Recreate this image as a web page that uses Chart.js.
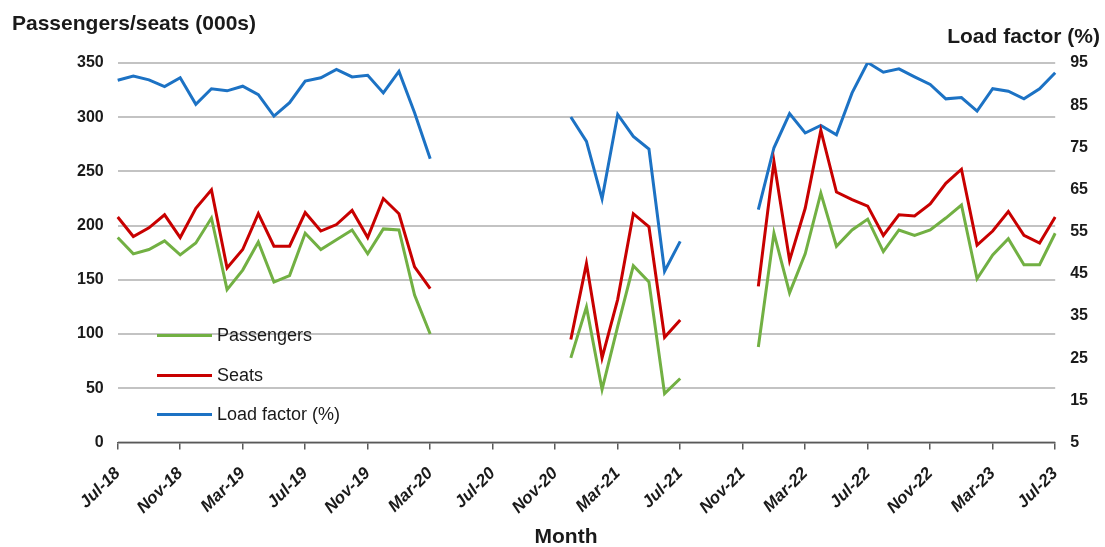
<!DOCTYPE html>
<html lang="en">
<head>
    <meta charset="UTF-8">
    <title>Passengers, seats and load factor</title>
    <script src="https://cdn.jsdelivr.net/npm/chart.js"></script>
    <style>
        body {
            margin: 0;
            background: #fff;
            font-family: "Liberation Sans", Arial, sans-serif;
            color: #1a1a1a;
        }
        #wrap {
            position: relative;
            width: 1105px;
            height: 547px;
        }
        .title {
            position: absolute;
            font-size: 21px;
            font-weight: bold;
            line-height: 21px;
            white-space: nowrap;
        }
        .legend-row {
            position: absolute;
            left: 157px;
            height: 18px;
            display: flex;
            align-items: center;
            font-size: 18px;
            line-height: 18px;
            white-space: nowrap;
        }
        .legend-row span.swatch {
            display: inline-block;
            width: 55px;
            height: 3px;
            margin-right: 5px;
        }
    </style>
</head>
<body>
<div id="wrap">
    <canvas id="chart" width="1105" height="547"></canvas>
    <div class="title" style="left:12px; top:12px;">Passengers/seats (000s)</div>
    <div class="title" style="right:5px; top:25px;">Load factor (%)</div>
    <div class="title" style="left:0; width:1132px; text-align:center; top:525px;">Month</div>
    <div id="legend"></div>
</div>

<script>
    const months = [
        'Jul-18', 'Aug-18', 'Sep-18', 'Oct-18', 'Nov-18', 'Dec-18',
        'Jan-19', 'Feb-19', 'Mar-19', 'Apr-19', 'May-19', 'Jun-19', 'Jul-19', 'Aug-19', 'Sep-19', 'Oct-19', 'Nov-19', 'Dec-19',
        'Jan-20', 'Feb-20', 'Mar-20', 'Apr-20', 'May-20', 'Jun-20', 'Jul-20', 'Aug-20', 'Sep-20', 'Oct-20', 'Nov-20', 'Dec-20',
        'Jan-21', 'Feb-21', 'Mar-21', 'Apr-21', 'May-21', 'Jun-21', 'Jul-21', 'Aug-21', 'Sep-21', 'Oct-21', 'Nov-21', 'Dec-21',
        'Jan-22', 'Feb-22', 'Mar-22', 'Apr-22', 'May-22', 'Jun-22', 'Jul-22', 'Aug-22', 'Sep-22', 'Oct-22', 'Nov-22', 'Dec-22',
        'Jan-23', 'Feb-23', 'Mar-23', 'Apr-23', 'May-23', 'Jun-23', 'Jul-23'
    ];

    // thousands; null = no flights reported
    const passengers = [
        189, 174, 178, 186, 173, 184, 207, 141, 159, 185, 148, 154, 193, 178, 187, 196, 174, 197, 196, 136, 100,
        null, null, null, null, null, null, null, null,
        78, 125, 49, 107, 163, 148, 45, 59,
        null, null, null, null,
        88, 193, 138, 174, 230, 181, 196, 206, 176, 196, 191, 196, 207, 219, 151, 173, 188, 164, 164, 193
    ];

    const seats = [
        208, 190, 198, 210, 189, 216, 233, 161, 178, 211, 181, 181, 212, 195, 201, 214, 189, 225, 211, 162, 142,
        null, null, null, null, null, null, null, null,
        95, 165, 78, 132, 211, 199, 97, 113,
        null, null, null, null,
        144, 259, 168, 216, 288, 231, 224, 218, 191, 210, 209, 220, 239, 252, 182, 195, 213, 191, 184, 208
    ];

    // percent
    const loadFactor = [
        90.9, 91.9, 91.0, 89.4, 91.5, 85.2, 88.9, 88.4, 89.5, 87.5, 82.4, 85.6, 90.7, 91.5, 93.5, 91.7, 92.1, 87.9, 93.0, 83.2, 72.3,
        null, null, null, null, null, null, null, null,
        82.2, 76.4, 62.8, 82.8, 77.6, 74.6, 45.6, 52.7,
        null, null, null, null,
        60.2, 74.9, 83.0, 78.4, 80.2, 78.0, 87.9, 95.1, 92.8, 93.6, 91.7, 89.9, 86.5, 86.8, 83.6, 88.9, 88.3, 86.5, 88.9, 92.7
    ];

    const seriesNames = ['Passengers', 'Seats', 'Load factor (%)'];
    const seriesColors = ['#72b043', '#c80000', '#1c72c4'];

    const fontFamily = '"Liberation Sans", Arial, sans-serif';
    const textColor = '#1a1a1a';

    const ctx = document.getElementById('chart').getContext('2d');
    const chart = new Chart(ctx, {
        type: 'line',
        data: {
            labels: months,
            datasets: [
                { label: seriesNames[0], data: passengers, borderColor: seriesColors[0], yAxisID: 'y' },
                { label: seriesNames[1], data: seats, borderColor: seriesColors[1], yAxisID: 'y' },
                { label: seriesNames[2], data: loadFactor, borderColor: seriesColors[2], yAxisID: 'y1' }
            ]
        },
        options: {
            responsive: false,
            animation: false,
            spanGaps: false,
            elements: {
                line: { borderWidth: 3, tension: 0, fill: false },
                point: { radius: 0, hoverRadius: 0 }
            },
            layout: {
                padding: { top: 63, left: 63, right: 2, bottom: 15 }
            },
            plugins: {
                legend: { display: false },
                tooltip: { enabled: false }
            },
            scales: {
                x: {
                    offset: false,
                    grid: {
                        drawOnChartArea: false,
                        drawTicks: true,
                        tickLength: 7,
                        lineWidth: 1.5,
                        color: (c) => (c.index % 4 === 0 ? '#595959' : 'rgba(0,0,0,0)')
                    },
                    border: { display: true, color: '#595959', width: 1.5 },
                    ticks: {
                        autoSkip: false,
                        minRotation: 45,
                        maxRotation: 45,
                        padding: 14,
                        color: textColor,
                        font: { family: fontFamily, size: 17, weight: 'bold', style: 'italic' },
                        callback: function (value, index) {
                            return index % 4 === 0 ? this.getLabelForValue(value) : '';
                        }
                    }
                },
                y: {
                    position: 'left',
                    min: 0,
                    max: 350,
                    grid: { color: '#c3c3c3', lineWidth: 2, drawTicks: false },
                    border: { display: false },
                    ticks: {
                        stepSize: 50,
                        padding: 14,
                        color: textColor,
                        font: { family: fontFamily, size: 16, weight: 'bold' }
                    }
                },
                y1: {
                    position: 'right',
                    min: 5,
                    max: 95,
                    grid: { display: false, drawTicks: false },
                    border: { display: false },
                    ticks: {
                        stepSize: 10,
                        padding: 15,
                        color: textColor,
                        font: { family: fontFamily, size: 16, weight: 'bold' }
                    }
                }
            }
        }
    });

    // legend sits inside the plot, lower left
    const legendTops = [326, 366, 405];
    const legendBox = document.getElementById('legend');
    seriesNames.forEach((name, i) => {
        const row = document.createElement('div');
        row.className = 'legend-row';
        row.style.top = legendTops[i] + 'px';
        const sw = document.createElement('span');
        sw.className = 'swatch';
        sw.style.background = seriesColors[i];
        row.appendChild(sw);
        row.appendChild(document.createTextNode(name));
        legendBox.appendChild(row);
    });
</script>
</body>
</html>
